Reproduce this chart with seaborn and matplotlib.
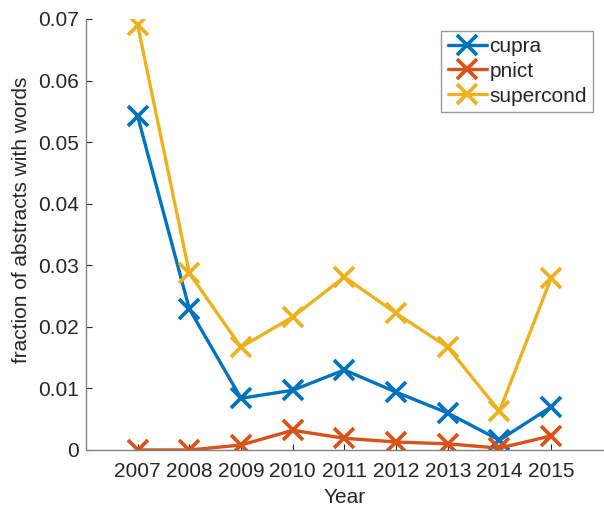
import matplotlib
matplotlib.use("Agg")
import matplotlib.pyplot as plt
import seaborn as sns
import pandas as pd

years = [2007, 2008, 2009, 2010, 2011, 2012, 2013, 2014, 2015]
cupra = [0.0542, 0.0229, 0.0084, 0.0097, 0.0130, 0.0094, 0.0060, 0.0016, 0.0070]
pnict = [0.0000, 0.0000, 0.0008, 0.0032, 0.0019, 0.0013, 0.0010, 0.0003, 0.0023]
supercond = [0.0690, 0.0287, 0.0167, 0.0216, 0.0281, 0.0222, 0.0167, 0.0063, 0.0279]
series_names = ["cupra", "pnict", "supercond"]
colors = ["#0072BD", "#D95319", "#EDB120"]

df = pd.DataFrame({
    "Year": years * 3,
    "value": cupra + pnict + supercond,
    "series": sum([[n] * len(years) for n in series_names], []),
})

sns.set_style("white")
plt.rcParams["font.family"] = ["Liberation Sans", "DejaVu Sans"]

fig = plt.figure(figsize=(6.04, 5.08), dpi=100)
ax = fig.add_axes([0.1424, 0.1142, 0.998 - 0.1424, 0.9626 - 0.1142])

MS, MEW, LW = 14, 2.7, 2.4
sns.lineplot(data=df, x="Year", y="value", hue="series", palette=colors,
             marker="x", markersize=MS, markeredgewidth=MEW, linewidth=LW,
             ax=ax, legend=False)
for line in ax.lines:
    line.set_markeredgecolor(line.get_color())

for n, c in zip(series_names, colors):
    ax.plot([], [], color=c, marker="x", markersize=MS, markeredgewidth=MEW,
            markeredgecolor=c, linewidth=LW, label=n)

ax.set_xlim(2006, 2016)
ax.set_ylim(0, 0.07)
ax.set_xticks(years)
ax.set_xticklabels([str(y) for y in years])
ax.set_yticks([0, 0.01, 0.02, 0.03, 0.04, 0.05, 0.06, 0.07])
ax.set_yticklabels(["0", "0.01", "0.02", "0.03", "0.04", "0.05", "0.06", "0.07"])
ax.set_xlabel("Year", fontsize=15, color="#262626")
ax.set_ylabel("fraction of abstracts with words", fontsize=15, color="#262626")
ax.xaxis.set_label_coords(0.5, -0.088)
ax.yaxis.set_label_coords(-0.106, 0.534)

for s in ["top", "right"]:
    ax.spines[s].set_visible(False)
for s in ["left", "bottom"]:
    ax.spines[s].set_color("#808080")
    ax.spines[s].set_linewidth(1.0)
ax.tick_params(axis="both", direction="in", length=4, width=0.8, color="#262626",
               labelsize=15, labelcolor="#262626", left=True, bottom=True)
ax.tick_params(axis="x", pad=9)
ax.tick_params(axis="y", pad=5)

leg = ax.legend(loc="upper right", bbox_to_anchor=(0.981, 0.973), frameon=True,
                fontsize=15, handlelength=1.9, handletextpad=0.1,
                borderpad=0.3, labelspacing=0.28, borderaxespad=0,
                fancybox=False, edgecolor="#808080")
leg.get_frame().set_linewidth(1.0)

fig.savefig("out.png", dpi=100)
